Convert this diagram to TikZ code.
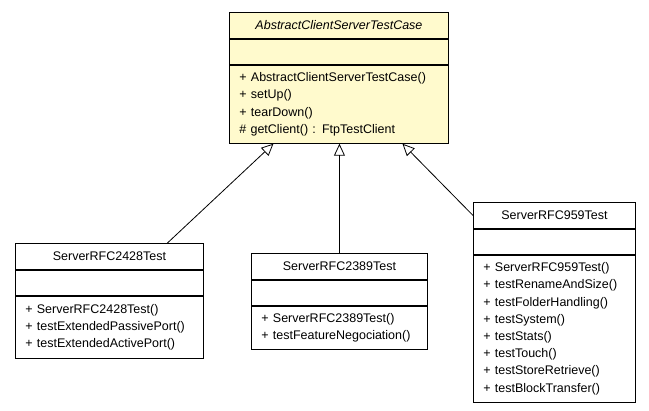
\documentclass[tikz,border=0pt]{standalone}
\usepackage{fontspec}
\newfontfamily\umlfont{Liberation Sans}
\usetikzlibrary{positioning,arrows.meta}
\definecolor{umlyellow}{RGB}{255,250,205}
\tikzset{
  umlfont/.style={font=\umlfont\fontsize{12.5}{17.2}\selectfont},
  umlitalic/.style={font=\umlfont\fontsize{12.5}{17.2}\selectfont\itshape},
  classhead/.style={draw, umlfont, line width=0.9pt, minimum width=#1, minimum height=26pt, inner sep=0pt},
  classattr/.style={draw, line width=0.9pt, minimum width=#1, minimum height=25pt, inner sep=0pt},
  classops/.style={draw, umlfont, line width=0.9pt, align=left, inner xsep=10pt, inner ysep=0pt},
  extends/.style={-{Triangle[open,length=12pt,width=11pt]}, line width=0.8pt}
}
\begin{document}
\begin{tikzpicture}[x=1pt, y=-1pt, line join=miter]
\useasboundingbox (0,0) rectangle (649,411);
% abstract base class
\node[classhead=219pt, umlitalic, fill=umlyellow, anchor=north west] (absT) at (229,12) {AbstractClientServerTestCase};
\node[classattr=219pt, fill=umlyellow, below=0pt of absT] (absA) {};
\node[classops, fill=umlyellow, text width=199pt, minimum height=78pt, below=0pt of absA] (absM)
  {+ AbstractClientServerTestCase()\\+ setUp()\\+ tearDown()\\\# getClient() : FtpTestClient};
% ServerRFC2428Test
\node[classhead=188pt, anchor=north west] (c2428T) at (15,243) {ServerRFC2428Test};
\node[classattr=188pt, below=0pt of c2428T] (c2428A) {};
\node[classops, text width=168pt, minimum height=62pt, below=0pt of c2428A] (c2428M)
  {+ ServerRFC2428Test()\\+ testExtendedPassivePort()\\+ testExtendedActivePort()};
% ServerRFC2389Test
\node[classhead=176pt, anchor=north west] (c2389T) at (251,253) {ServerRFC2389Test};
\node[classattr=176pt, below=0pt of c2389T] (c2389A) {};
\node[classops, text width=156pt, minimum height=43pt, below=0pt of c2389A] (c2389M)
  {+ ServerRFC2389Test()\\+ testFeatureNegociation()};
% ServerRFC959Test
\node[classhead=162pt, anchor=north west] (c959T) at (473,202) {ServerRFC959Test};
\node[classattr=162pt, below=0pt of c959T] (c959A) {};
\node[classops, text width=142pt, minimum height=147pt, below=0pt of c959A] (c959M)
  {+ ServerRFC959Test()\\+ testRenameAndSize()\\+ testFolderHandling()\\+ testSystem()\\+ testStats()\\+ testTouch()\\+ testStoreRetrieve()\\+ testBlockTransfer()};
% generalisations
\draw[extends] ([xshift=58pt]c2428T.north) -- ([xshift=-65.5pt]absM.south);
\draw[extends] (c2389T.north) -- (c2389T.north |- absM.south);
\draw[extends] (c959T.west) -- ([xshift=63.5pt]absM.south);
\end{tikzpicture}
\end{document}
